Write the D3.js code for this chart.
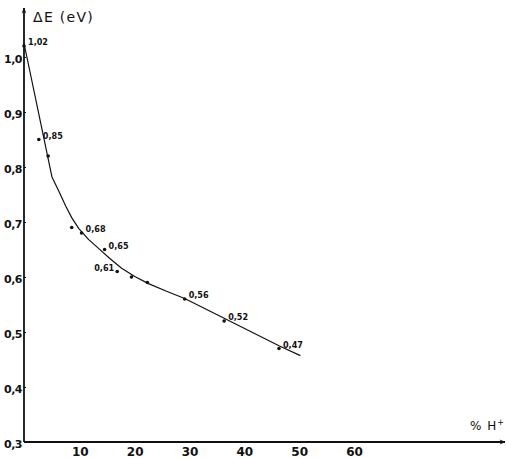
<!DOCTYPE html>
<html>
<head>
<meta charset="utf-8">
<script src="https://cdn.jsdelivr.net/npm/d3@7/dist/d3.min.js"></script>
<style>
  html, body { margin: 0; padding: 0; background: #fff; }
  svg { display: block; }
</style>
</head>
<body>
<script>
// Measured points: hydrogen content (%) and energy gap ΔE (eV)
const pointX = [0, 2.7, 4.4, 8.7, 10.5, 14.7, 17, 19.6, 22.5, 29.3, 36.5, 46.5];
const pointY = [1.02, 0.85, 0.82, 0.69, 0.68, 0.65, 0.61, 0.60, 0.59, 0.56, 0.52, 0.47];
const pointLabel = ["1,02", "0,85", "", "", "0,68", "0,65", "0,61", "", "", "0,56", "0,52", "0,47"];
const labelAnchor = ["start", "start", "start", "start", "start", "start", "end", "start", "start", "start", "start", "start"];

// Hand-drawn fitted curve through the measurements
const curveX = [0, 5.1, 6.4, 7.6, 8.7, 10.0, 11.8, 13.6, 15.6, 17.8, 20.2, 22.7, 26.0, 29.3, 36.5, 46.5, 50.4];
const curveY = [1.025, 0.782, 0.755, 0.729, 0.708, 0.688, 0.668, 0.652, 0.634, 0.616, 0.601, 0.588, 0.574, 0.561, 0.525, 0.475, 0.457];

// Axis ticks
const xTicks = [10, 20, 30, 40, 50, 60];
const yTicks = [0.3, 0.4, 0.5, 0.6, 0.7, 0.8, 0.9, 1.0];
const yTickLabels = ["0,3", "0,4", "0,5", "0,6", "0,7", "0,8", "0,9", "1,0"];

const W = 507, H = 458;
const svg = d3.select("body").append("svg").attr("width", W).attr("height", H);

const x = d3.scaleLinear().domain([0, 60]).range([25, 354]);
const y = d3.scaleLinear().domain([0.3, 1.0]).range([442, 57]);

const ink = "#111";
const boldFont = "'DejaVu Sans', sans-serif";

// Arrowhead for both axes
svg.append("defs").append("marker")
  .attr("id", "arrow").attr("viewBox", "0 0 10 10")
  .attr("refX", 9).attr("refY", 5)
  .attr("markerWidth", 8).attr("markerHeight", 6)
  .attr("orient", "auto-start-reverse")
  .attr("markerUnits", "userSpaceOnUse")
  .append("path").attr("d", "M0,1 L10,5 L0,9 L3,5 Z").attr("fill", ink);

svg.append("line")
  .attr("x1", x(0) - 1).attr("y1", y(0.3))
  .attr("x2", x(0) - 1).attr("y2", 8)
  .attr("stroke", ink).attr("stroke-width", 1.8)
  .attr("marker-end", "url(#arrow)");

svg.append("line")
  .attr("x1", x(0) - 1).attr("y1", y(0.3))
  .attr("x2", 505).attr("y2", y(0.3))
  .attr("stroke", ink).attr("stroke-width", 1.8)
  .attr("marker-end", "url(#arrow)");

// Y axis ticks and labels
const yAxis = d3.axisLeft(y)
  .tickValues(yTicks)
  .tickSize(2)
  .tickPadding(2)
  .tickFormat((d, i) => yTickLabels[i]);

const gy = svg.append("g").attr("transform", `translate(${x(0) + 1},0)`).call(yAxis);
gy.select(".domain").remove();
gy.selectAll(".tick line").attr("stroke", ink).attr("stroke-width", 1.2);
gy.selectAll(".tick text")
  .attr("fill", ink)
  .style("font-family", boldFont)
  .style("font-weight", "bold")
  .style("font-size", "11px")
  .style("letter-spacing", "-0.5px")
  .attr("dy", "0.5em");

// X axis labels
const xAxis = d3.axisBottom(x)
  .tickValues(xTicks)
  .tickSize(0)
  .tickPadding(5)
  .tickFormat(d3.format("d"));

const gx = svg.append("g").attr("transform", `translate(0,${y(0.3)})`).call(xAxis);
gx.select(".domain").remove();
gx.selectAll(".tick text")
  .attr("fill", ink)
  .style("font-family", boldFont)
  .style("font-weight", "bold")
  .style("font-size", "12px");

// Axis titles
svg.append("text")
  .attr("x", 33).attr("y", 22)
  .attr("fill", ink)
  .style("font-family", "'DejaVu Sans', sans-serif")
  .style("font-size", "14px")
  .style("letter-spacing", "1.3px")
  .text("\u0394E (eV)");

const xt = svg.append("text")
  .attr("x", 470).attr("y", 430)
  .attr("fill", ink)
  .style("font-family", "'DejaVu Sans', sans-serif")
  .style("font-size", "12px")
  .style("letter-spacing", "1px");
xt.append("tspan").text("% H");
xt.append("tspan").attr("dy", -5).style("font-size", "8px").text("+");

// Fitted curve
const curveData = curveX.map((v, i) => [v, curveY[i]]);
svg.append("path")
  .datum(curveData)
  .attr("fill", "none")
  .attr("stroke", ink)
  .attr("stroke-width", 1.2)
  .attr("stroke-linejoin", "round")
  .attr("d", d3.line().x(d => x(d[0]) - 1).y(d => y(d[1])).curve(d3.curveLinear));

// Measured points
const pts = pointX.map((v, i) => ({ x: v, y: pointY[i], label: pointLabel[i], anchor: labelAnchor[i] }));
svg.selectAll("circle.pt")
  .data(pts)
  .join("circle")
  .attr("class", "pt")
  .attr("cx", d => x(d.x) - 1)
  .attr("cy", d => y(d.y))
  .attr("r", 1.8)
  .attr("fill", ink);

svg.selectAll("text.val")
  .data(pts.filter(d => d.label))
  .join("text")
  .attr("class", "val")
  .attr("x", d => x(d.x) + (d.anchor === "end" ? -4 : 3))
  .attr("y", d => y(d.y) - 1)
  .attr("text-anchor", d => d.anchor)
  .attr("fill", ink)
  .style("font-family", "'Liberation Sans Narrow', 'DejaVu Sans Condensed', sans-serif")
  .style("font-weight", "bold")
  .style("font-size", "9px")
  .text(d => d.label);
</script>
</body>
</html>
